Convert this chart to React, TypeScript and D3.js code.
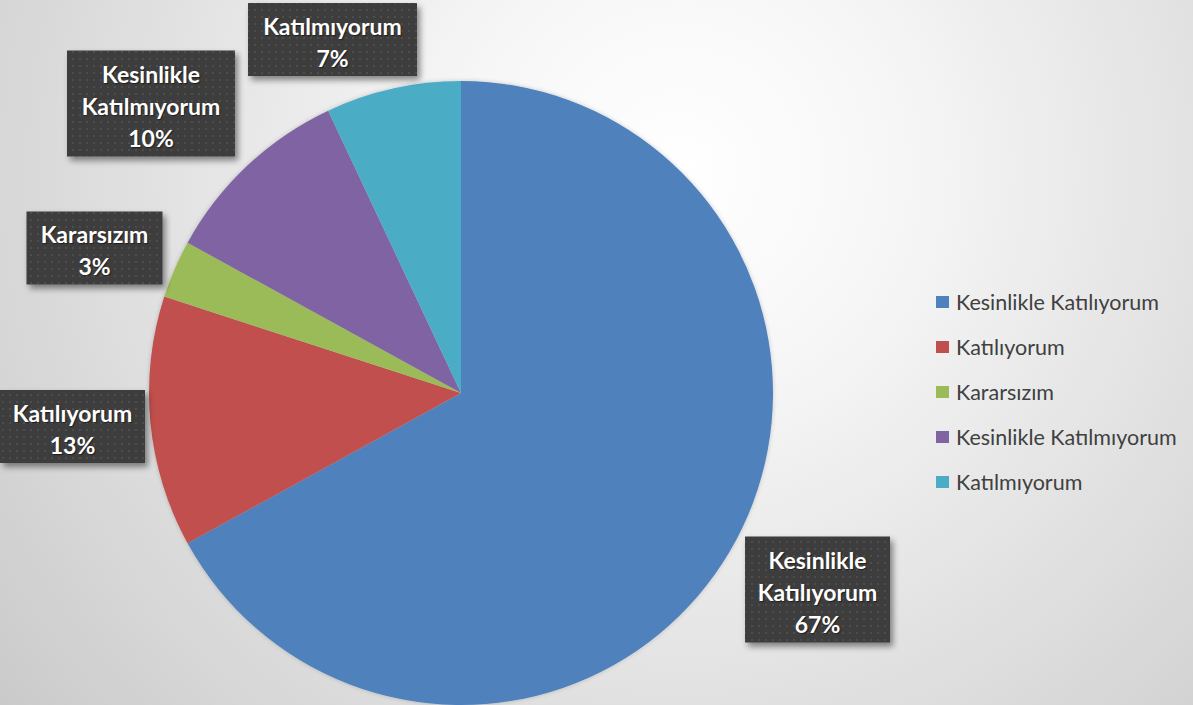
import React from "react";
import * as d3 from "d3";

const categories = [
  "Kesinlikle Katılıyorum",
  "Katılıyorum",
  "Kararsızım",
  "Kesinlikle Katılmıyorum",
  "Katılmıyorum",
];
const values = [67, 13, 3, 10, 7];
const colors = ["#4F81BD", "#C0504D", "#9BBB59", "#8064A2", "#4BACC6"];
const labelLines = [
  ["Kesinlikle", "Katılıyorum"],
  ["Katılıyorum"],
  ["Kararsızım"],
  ["Kesinlikle", "Katılmıyorum"],
  ["Katılmıyorum"],
];
// data-label box layout: centre offset from pie centre, and box width
const labelDx = [356.5, -388.5, -366.5, -310, -128.5];
const labelDy = [196.5, 33.5, -145, -289.5, -353.5];
const labelWidth = [145, 145, 136, 168, 169];

const W = 1193;
const H = 705;
const cx = 461;
const cy = 393;
const R = 312;

export default function App() {
  const total = d3.sum(values);
  const pie = d3
    .pie<number>()
    .sort(null)
    .value((d) => d)(values);
  const arc = d3.arc<d3.PieArcDatum<number>>().innerRadius(0).outerRadius(R);

  const legendX = 936;
  const legendY0 = 302;
  const legendStep = 45;

  return (
    <svg
      width={W}
      height={H}
      style={{ position: "absolute", left: 0, top: 0, fontFamily: "Lato, 'Open Sans', sans-serif" }}
    >
      <defs>
        <radialGradient id="bg" cx="680" cy="170" r="900" gradientUnits="userSpaceOnUse">
          <stop offset="0" stopColor="#ffffff" />
          <stop offset="0.25" stopColor="#f6f6f6" />
          <stop offset="1" stopColor="#c8c8c8" />
        </radialGradient>
        <pattern id="dots" width="7" height="7" patternUnits="userSpaceOnUse">
          <rect width="7" height="7" fill="#3e3e3e" />
          <rect x="2" y="2" width="2" height="2" fill="#4d4d4d" />
        </pattern>
        <filter id="shadow" x="-20%" y="-20%" width="150%" height="150%">
          <feDropShadow dx="3" dy="4" stdDeviation="3" floodColor="#000" floodOpacity="0.45" />
        </filter>
        <filter id="pieShadow" x="-20%" y="-20%" width="140%" height="140%">
          <feDropShadow dx="0" dy="0" stdDeviation="2" floodColor="#000" floodOpacity="0.2" />
        </filter>
      </defs>
      <rect x={0} y={0} width={W} height={H} fill="url(#bg)" />
      <g transform={`translate(${cx},${cy})`} filter="url(#pieShadow)">
        {pie.map((p, i) => (
          <path key={i} d={arc(p) || ""} fill={colors[i]} stroke="none" />
        ))}
      </g>
      {pie.map((p, i) => {
        const bx = cx + labelDx[i];
        const by = cy + labelDy[i];
        const lines = [...labelLines[i], `${Math.round((values[i] / total) * 100)}%`];
        const lh = 32;
        const bh = lines.length === 3 ? 106 : 73;
        const bw = labelWidth[i];
        const x0 = bx - bw / 2;
        const y0 = by - bh / 2;
        return (
          <g key={i}>
            <rect x={x0} y={y0} width={bw} height={bh} fill="url(#dots)" filter="url(#shadow)" />
            {lines.map((t, j) => (
              <text
                key={j}
                x={bx}
                y={by + (j - (lines.length - 1) / 2) * lh + 2}
                textAnchor="middle"
                dominantBaseline="central"
                fill="#ffffff"
                fontWeight="bold"
                fontSize={23}
                style={{ textShadow: "1px 1px 1px rgba(0,0,0,0.5)" }}
              >
                {t}
              </text>
            ))}
          </g>
        );
      })}
      {categories.map((c, i) => (
        <g key={c} transform={`translate(${legendX},${legendY0 + i * legendStep})`}>
          <rect x={0} y={-6} width={13} height={12} fill={colors[i]} />
          <text x={20} y={0} dominantBaseline="central" fontSize={21.5} fill="#404040">
            {c}
          </text>
        </g>
      ))}
    </svg>
  );
}
